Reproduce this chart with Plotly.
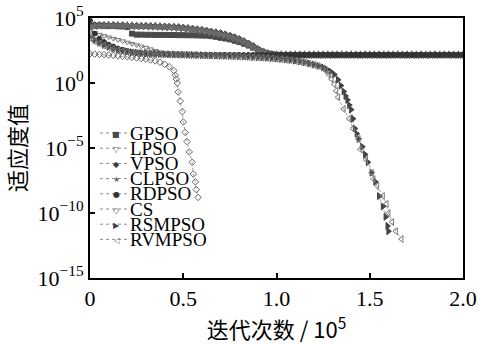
import plotly.graph_objects as go

# iteration axis (unit: 1e5 iterations), sampled every 0.025
GRID = [round(i * 0.025, 3) for i in range(81)]

# fitness values, stored as log10 exponents
GPSO_E = [4.35, 4.40, 4.42, 4.40, 4.38, 4.40, 4.36, 4.35, 4.30, 3.80,
          3.72, 3.72, 3.71, 3.71, 3.70, 3.70, 3.70, 3.69, 3.69, 3.68, 3.68, 3.67, 3.67, 3.66, 3.65, 3.64,
          3.60, 3.55, 3.48, 3.42, 3.35, 3.25, 3.15, 3.02, 2.88, 2.72, 2.56, 2.42, 2.30, 2.22, 2.18,
          2.16, 2.15, 2.16, 2.15, 2.16, 2.16, 2.15, 2.16, 2.15, 2.16, 2.15, 2.16, 2.16, 2.15, 2.16, 2.15, 2.16, 2.15, 2.16, 2.16,
          2.15, 2.16, 2.15, 2.16, 2.15, 2.16, 2.16, 2.15, 2.16, 2.15, 2.16, 2.15, 2.16, 2.16, 2.15, 2.16, 2.15, 2.16, 2.15, 2.16]
VPSO_E = [4.50, 4.48, 4.46, 4.47, 4.45, 4.46, 4.44, 4.45, 4.43, 4.42,
          4.42, 4.40, 4.41, 4.39, 4.38, 4.37, 4.36, 4.35, 4.33, 4.31, 4.28, 4.24, 4.20, 4.15, 4.10, 4.05,
          3.98, 3.92, 3.85, 3.76, 3.66, 3.54, 3.40, 3.24, 3.06, 2.86, 2.62, 2.42, 2.28, 2.20, 2.17,
          2.15, 2.16, 2.15, 2.15, 2.16, 2.15, 2.15, 2.16, 2.15, 2.15, 2.16, 2.15, 2.15, 2.16, 2.15, 2.15, 2.16, 2.15, 2.15, 2.16,
          2.15, 2.15, 2.16, 2.15, 2.15, 2.16, 2.15, 2.15, 2.16, 2.15, 2.15, 2.16, 2.15, 2.15, 2.16, 2.15, 2.15, 2.16, 2.15, 2.15]
CLPSO_E = [4.30, 4.38, 4.42, 4.40, 4.43, 4.41, 4.42, 4.40, 4.40, 4.38,
           4.37, 4.36, 4.36, 4.34, 4.33, 4.32, 4.30, 4.28, 4.26, 4.24, 4.20, 4.16, 4.12, 4.07, 4.02, 3.96,
           3.90, 3.83, 3.75, 3.66, 3.56, 3.44, 3.30, 3.14, 2.96, 2.76, 2.55, 2.38, 2.26, 2.19, 2.16,
           2.16, 2.15, 2.15, 2.16, 2.15, 2.16, 2.15, 2.15, 2.16, 2.15, 2.16, 2.15, 2.15, 2.16, 2.15, 2.16, 2.15, 2.15, 2.16, 2.15,
           2.16, 2.15, 2.15, 2.16, 2.15, 2.16, 2.15, 2.15, 2.16, 2.15, 2.16, 2.15, 2.15, 2.16, 2.15, 2.16, 2.15, 2.15, 2.16, 2.15]
LPSO_E = [4.00, 3.85, 3.72, 3.62, 3.52, 3.42, 3.32, 3.22, 3.12, 3.02,
          2.92, 2.82, 2.72, 2.60, 2.48, 2.36, 2.26, 2.20, 2.18, 2.17, 2.17, 2.16, 2.16, 2.17, 2.16, 2.16,
          2.16, 2.17, 2.16, 2.16, 2.17, 2.16, 2.16, 2.17, 2.16, 2.16, 2.17, 2.16, 2.16, 2.17, 2.16,
          2.16, 2.17, 2.16, 2.16, 2.17, 2.16, 2.16, 2.17, 2.16, 2.16, 2.17, 2.16, 2.16, 2.17, 2.16, 2.16, 2.17, 2.16, 2.16, 2.17,
          2.16, 2.16, 2.17, 2.16, 2.16, 2.17, 2.16, 2.16, 2.17, 2.16, 2.16, 2.17, 2.16, 2.16, 2.17, 2.16, 2.16, 2.17, 2.16, 2.16]
RDPSO_E = [4.80, 3.80, 3.40, 3.15, 2.95, 2.80, 2.65, 2.55, 2.45, 2.38,
           2.33, 2.30, 2.27, 2.25, 2.23, 2.22, 2.21, 2.20, 2.19, 2.19, 2.18, 2.18, 2.17, 2.17, 2.17, 2.16,
           2.16, 2.15, 2.16, 2.16, 2.15, 2.16, 2.16, 2.15, 2.16, 2.16, 2.15, 2.16, 2.16, 2.15, 2.16,
           2.16, 2.15, 2.16, 2.16, 2.15, 2.16, 2.16, 2.15, 2.16, 2.16, 2.15, 2.16, 2.16, 2.15, 2.16, 2.16, 2.15, 2.16, 2.16, 2.15,
           2.16, 2.16, 2.15, 2.16, 2.16, 2.15, 2.16, 2.16, 2.15, 2.16, 2.16, 2.15, 2.16, 2.16, 2.15, 2.16, 2.16, 2.15, 2.16, 2.16]

CS_X = [0.0, 0.025, 0.05, 0.075, 0.1, 0.125, 0.15, 0.175, 0.2, 0.225, 0.25, 0.275, 0.3, 0.325, 0.35, 0.375, 0.4, 0.425, 0.45,
        0.457, 0.463, 0.468, 0.473, 0.484, 0.495, 0.50, 0.51, 0.52, 0.532, 0.548, 0.554, 0.565, 0.57, 0.58]
CS_E = [2.25, 2.22, 2.20, 2.18, 2.15, 2.12, 2.08, 2.05, 2.01, 1.97, 1.93, 1.88, 1.83, 1.77, 1.70, 1.60, 1.45, 1.25, 0.95,
        0.60, 0.30, 0.00, -0.70, -1.40, -2.20, -3.00, -3.80, -4.50, -5.30, -6.10, -7.00, -7.60, -8.20, -8.80]

RSM_X = GRID[:49] + [1.225, 1.25, 1.27, 1.29, 1.31, 1.33, 1.345, 1.36, 1.37, 1.38, 1.39, 1.40, 1.41, 1.42, 1.43,
                     1.44, 1.46, 1.475, 1.49, 1.51, 1.53, 1.55, 1.57, 1.585, 1.595, 1.60]
RSM_E = [3.55, 3.30, 3.10, 2.92, 2.78, 2.66, 2.56, 2.48, 2.42, 2.37,
         2.33, 2.30, 2.28, 2.26, 2.24, 2.23, 2.22, 2.21, 2.20, 2.19, 2.18, 2.17, 2.16, 2.15, 2.14, 2.13,
         2.12, 2.11, 2.10, 2.09, 2.08, 2.07, 2.06, 2.04, 2.02, 2.00, 1.98, 1.96, 1.94, 1.91, 1.88,
         1.85, 1.81, 1.77, 1.72, 1.66, 1.59, 1.51, 1.42,
         1.32, 1.20, 1.05, 0.88, 0.65, 0.25, -0.20, -0.65, -1.00, -1.30, -1.70, -2.05, -2.75, -3.50, -3.90,
         -4.30, -4.90, -5.50, -6.10, -6.90, -7.60, -8.70, -9.50, -10.30, -11.00, -11.40]

RVM_X = GRID[:49] + [1.225, 1.25, 1.265, 1.28, 1.295, 1.31, 1.32, 1.33, 1.36, 1.39, 1.41, 1.44, 1.45, 1.48,
                     1.51, 1.52, 1.54, 1.57, 1.59, 1.60, 1.62, 1.64, 1.67]
RVM_E = [3.45, 3.22, 3.04, 2.88, 2.74, 2.63, 2.54, 2.46, 2.40, 2.35,
         2.31, 2.28, 2.26, 2.24, 2.22, 2.21, 2.20, 2.19, 2.18, 2.17, 2.16, 2.15, 2.14, 2.13, 2.12, 2.11,
         2.10, 2.09, 2.08, 2.07, 2.06, 2.05, 2.04, 2.02, 2.00, 1.98, 1.96, 1.94, 1.92, 1.89, 1.86,
         1.83, 1.79, 1.75, 1.70, 1.64, 1.57, 1.49, 1.40,
         1.30, 1.12, 0.95, 0.65, 0.30, -0.10, -0.60, -1.10, -2.00, -2.75, -3.50, -4.30, -5.10, -5.90,
         -6.90, -7.40, -7.90, -8.70, -9.30, -10.00, -10.70, -11.40, -12.00]

Y_TICKS = [1e-15, 1e-10, 1e-5, 1e0, 1e5]
Y_TICKTEXT = ["10<sup>−15</sup>", "10<sup>−10</sup>", "10<sup>−5</sup>", "10<sup>0</sup>", "10<sup>5</sup>"]
X_TICKS = [0, 0.5, 1.0, 1.5, 2.0]
X_TICKTEXT = ["0", "0.5", "1.0", "1.5", "2.0"]

# name, x, exponents, plot symbol, colour, size, legend glyph
series = [
    ("GPSO", GRID, GPSO_E, "square", "#4a4a4a", 5, "■"),
    ("LPSO", GRID, LPSO_E, "triangle-down-open", "#777777", 5, "▽"),
    ("VPSO", GRID, VPSO_E, "diamond", "#3a3a3a", 5, "◆"),
    ("CLPSO", GRID, CLPSO_E, "star", "#6a6a6a", 6, "★"),
    ("RDPSO", GRID, RDPSO_E, "circle", "#333333", 5, "●"),
    ("CS", CS_X, CS_E, "diamond-open", "#666666", 5, "◇"),
    ("RSMPSO", RSM_X, RSM_E, "triangle-right", "#444444", 6, "▶"),
    ("RVMPSO", RVM_X, RVM_E, "triangle-left-open", "#777777", 6, "◁"),
]

W, H = 480, 344
ML, MR, MT, MB = 90, 17, 18, 66
PW, PH = W - ML - MR, H - MT - MB

def px(sx):
    return (sx - ML) / PW

def py(sy):
    return (H - MB - sy) / PH

serif = "Liberation Serif, Times New Roman, serif"
cjk = "Noto Sans CJK SC, " + serif
fig = go.Figure()
shapes, annotations = [], []
for i, (name, xs, es, sym, col, sz, glyph) in enumerate(series):
    fig.add_trace(go.Scatter(
        x=xs, y=[10 ** e for e in es], name=name, mode="lines+markers", showlegend=False,
        line=dict(color="#8a8a8a", width=0.8, dash="dot"),
        marker=dict(symbol=sym, size=sz, color=col, line=dict(color=col, width=1)),
    ))
    # hand-made legend row (compact spacing as in the original)
    ry = 133 + i * 15.2
    shapes.append(dict(type="line", xref="paper", yref="paper",
                       x0=px(100), x1=px(128), y0=py(ry), y1=py(ry),
                       line=dict(color="#8a8a8a", width=1, dash="dot")))
    annotations.append(dict(xref="paper", yref="paper", x=px(116), y=py(ry + 0.5),
                            text=glyph, showarrow=False, xanchor="center", yanchor="middle",
                            height=8, borderpad=0,
                            font=dict(family="DejaVu Sans", size=8, color=col)))
    annotations.append(dict(xref="paper", yref="paper", x=px(129), y=py(ry),
                            text=name, showarrow=False, xanchor="left", yanchor="middle",
                            height=15, borderpad=0,
                            font=dict(family=serif, size=19, color="black")))

fig.update_layout(
    width=W, height=H, autosize=False,
    margin=dict(l=ML, r=MR, t=MT, b=MB, autoexpand=False),
    paper_bgcolor="white", plot_bgcolor="white",
    font=dict(family=serif, size=22, color="black"),
    shapes=shapes, annotations=annotations,
    xaxis=dict(range=[0, 2.0], tickvals=X_TICKS, ticktext=X_TICKTEXT, automargin=False,
               ticks="inside", ticklen=5, tickwidth=1.5, tickcolor="black",
               showline=True, linecolor="black", linewidth=2, mirror=True,
               showgrid=False, zeroline=False,
               tickfont=dict(family=serif, size=22),
               title=dict(text="迭代次数 / 10<sup>5</sup>", font=dict(family=cjk, size=22), standoff=11)),
    yaxis=dict(type="log", range=[-15, 5], tickvals=Y_TICKS, ticktext=Y_TICKTEXT, automargin=False,
               ticks="inside", ticklen=5, tickwidth=1.5, tickcolor="black",
               showline=True, linecolor="black", linewidth=2, mirror=True,
               showgrid=False, zeroline=False,
               tickfont=dict(family=serif, size=22),
               title=dict(text="适应度值", font=dict(family=cjk, size=22), standoff=6)),
)

fig.write_html("out.html", config={"displayModeBar": False, "responsive": False},
               post_script="document.body.style.margin='0';"
                           "document.documentElement.style.overflow='hidden';")
